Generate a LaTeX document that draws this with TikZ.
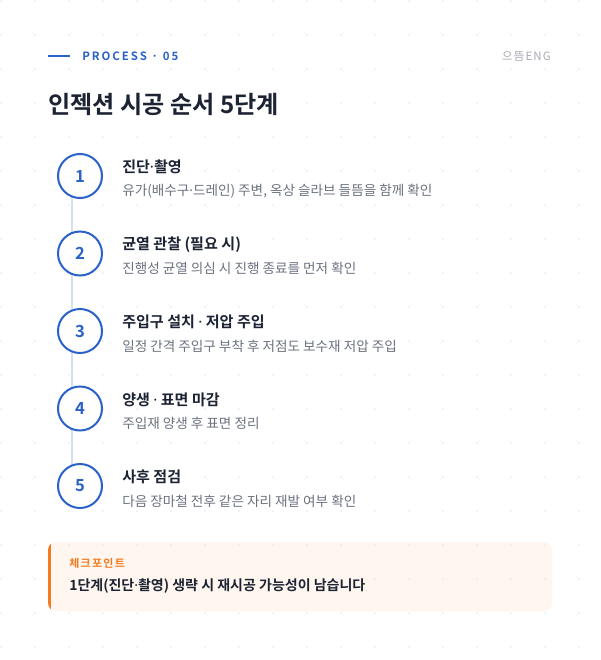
\documentclass[tikz,border=0pt]{standalone}
\usepackage{fontspec}
\setmainfont{Noto Sans CJK KR}[BoldFont={Noto Sans CJK KR Bold}]
\newfontfamily\dotfont{Noto Sans}
\newcommand\mdot{{\dotfont ·}}
\usetikzlibrary{positioning}
\pgfdeclarelayer{bg}
\pgfsetlayers{bg,main}

\definecolor{accent}{HTML}{2A62C9}
\definecolor{ink}{HTML}{1C2333}
\definecolor{muted}{HTML}{6B7280}
\definecolor{rail}{HTML}{D2DFF4}
\definecolor{dotgray}{HTML}{E3E6EB}
\definecolor{warn}{HTML}{F47B20}
\definecolor{warnbg}{HTML}{FFF6EF}

\tikzset{
  num/.style={circle, draw=accent, line width=1.5pt, fill=white, minimum size=33pt,
    inner sep=0pt, text=accent, font=\fontsize{12.5}{14}\selectfont\bfseries},
  steptitle/.style={anchor=west, inner sep=0pt, text=ink,
    font=\fontsize{11.3}{13}\selectfont\bfseries},
  stepdesc/.style={anchor=west, inner sep=0pt, text=muted,
    font=\fontsize{10.2}{12}\selectfont},
}

\begin{document}
\begin{tikzpicture}[x=0.75pt,y=-0.75pt]
\useasboundingbox (0,0) rectangle (600,660);

% header
\draw[accent, line width=1.5pt] (48,56) -- (70,56);
\node[anchor=west, inner sep=0pt, text=accent, font=\fontsize{8.6}{10}\selectfont\bfseries\addfontfeature{LetterSpace=17}] (tag) at (82,56) {PROCESS · 05};
\node[anchor=east, inner sep=0pt, text=muted!60, font=\fontsize{8.6}{10}\selectfont\addfontfeature{LetterSpace=10}] (brand) at (551,56) {으뜸ENG};
\node[anchor=west, inner sep=0pt, text=ink, font=\fontsize{18.1}{21}\selectfont\bfseries] (title) at (48,104) {인젝션 시공 순서 5단계};

% steps
\foreach \n/\y/\t/\d in {
  1/176/{진단\mdot 촬영}/{유가(배수구\mdot 드레인) 주변, 옥상 슬라브 들뜸을 함께 확인},
  2/253.5/{균열 관찰 (필요 시)}/{진행성 균열 의심 시 진행 종료를 먼저 확인},
  3/331/{주입구 설치 \mdot{} 저압 주입}/{일정 간격 주입구 부착 후 저점도 보수재 저압 주입},
  4/408.5/{양생 \mdot{} 표면 마감}/{주입재 양생 후 표면 정리},
  5/486/{사후 점검}/{다음 장마철 전후 같은 자리 재발 여부 확인}}{
  \node[num] (c\n) at (80,\y) {\n};
  \node[steptitle] (t\n) at (122,\y-9) {\t};
  \node[stepdesc] (d\n) at (122,\y+15) {\d};
}

% checkpoint
\node[anchor=west, inner sep=0pt, text=warn, font=\fontsize{8.2}{10}\selectfont\bfseries\addfontfeature{LetterSpace=12}] (cplabel) at (69,563) {체크포인트};
\node[anchor=west, inner sep=0pt, text=ink, font=\fontsize{10.5}{12}\selectfont\bfseries] (cptext) at (69,586) {1단계(진단\mdot 촬영) 생략 시 재시공 가능성이 남습니다};

\begin{pgfonlayer}{bg}
  \fill[white] (0,0) rectangle (600,660);
  \fill[warnbg, rounded corners=6pt] (48,542) rectangle (552,611);
  \begin{scope}
    \clip[rounded corners=6pt] (48,542) rectangle (552,611);
    \fill[warn] (48,542) rectangle (50.5,611);
  \end{scope}
  \foreach \i in {0,...,17}
    \foreach \j in {0,...,19}
      \fill[dotgray] (34*\i+1,34*\j+1) circle (0.9);
  \draw[rail, line width=1.5pt] ([xshift=-6pt]c1.center) -- ([xshift=-6pt]c5.center);
\end{pgfonlayer}
\end{tikzpicture}
\end{document}
